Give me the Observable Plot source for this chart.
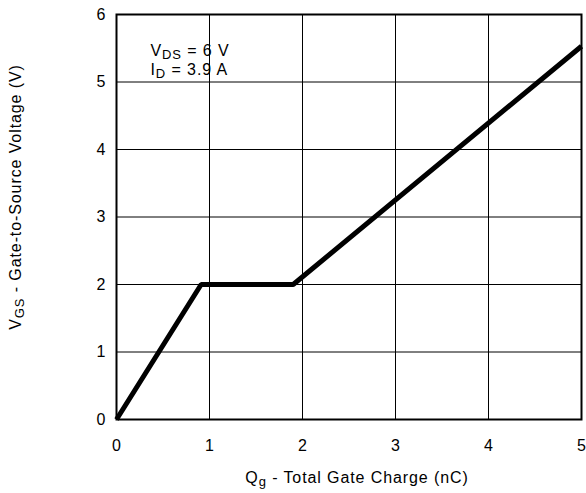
<!DOCTYPE html>
<html>
<head>
<meta charset="utf-8">
<script src="https://cdn.jsdelivr.net/npm/d3@7"></script>
<script src="https://cdn.jsdelivr.net/npm/@observablehq/plot@0.6"></script>
<style>
  html, body { margin: 0; padding: 0; background: #fff; }
  #chart svg { display: block; }
</style>
</head>
<body>
<div id="chart"></div>
<script>
// Data
const qg = [0, 0.91, 1.9, 5];          // Total gate charge (nC)
const vgs = [0, 2, 2, 5.53];           // Gate-to-source voltage (V)
const xTicks = [0, 1, 2, 3, 4, 5];
const yTicks = [0, 1, 2, 3, 4, 5, 6];
const xLabel = "Q_{g} - Total Gate Charge (nC)";
const yLabel = "V_{GS} - Gate-to-Source Voltage (V)";
const notes = ["V_{DS} = 6 V", "I_{D} = 3.9 A"];

const points = qg.map((q, i) => ({q, v: vgs[i]}));
const FONT = "'Liberation Sans', Arial, Helvetica, sans-serif";

const chart = Plot.plot({
  width: 586,
  height: 493,
  marginLeft: 116,
  marginRight: 5,
  marginTop: 14,
  marginBottom: 74,
  style: {fontFamily: FONT, fontSize: "16px", color: "#000", background: "#fff"},
  x: {domain: [0, 5], ticks: xTicks},
  y: {domain: [0, 6], ticks: yTicks},
  marks: [
    Plot.gridX(xTicks, {stroke: "#000", strokeOpacity: 1, strokeWidth: 1}),
    Plot.gridY(yTicks, {stroke: "#000", strokeOpacity: 1, strokeWidth: 1}),
    Plot.axisX(xTicks, {tickSize: 0, tickPadding: 20, label: null, fontSize: 16, tickFormat: d => String(d)}),
    Plot.axisY(yTicks, {tickSize: 0, tickPadding: 11, label: null, fontSize: 16, tickFormat: d => String(d)}),
    Plot.frame({stroke: "#000", strokeWidth: 2}),
    Plot.line(points, {x: "q", y: "v", stroke: "#000", strokeWidth: 5, strokeLinejoin: "miter", strokeLinecap: "butt"}),
    Plot.text([xLabel], {text: d => d, frameAnchor: "bottom", lineAnchor: "bottom", dy: 63, dx: 8, fontSize: 16, fill: "#000"}),
    Plot.text([yLabel], {text: d => d, frameAnchor: "left", textAnchor: "middle", lineAnchor: "bottom", rotate: -90, dx: -96, dy: -20, fontSize: 16, fill: "#000"}),
    Plot.text([notes[0]], {text: d => d, frameAnchor: "top-left", textAnchor: "start", lineAnchor: "bottom", dx: 34, dy: 41, fontSize: 16, fill: "#000"}),
    Plot.text([notes[1]], {text: d => d, frameAnchor: "top-left", textAnchor: "start", lineAnchor: "bottom", dx: 34, dy: 60, fontSize: 16, fill: "#000"})
  ]
});

document.getElementById("chart").appendChild(chart);

// Turn "_{...}" markup into subscript tspans
d3.select(chart).selectAll("text").each(function() {
  const el = this;
  const s = el.textContent;
  if (!s.includes("_{")) return;
  el.textContent = "";
  el.setAttribute("letter-spacing", "0.9");
  const parts = s.split(/(_\{[^}]*\})/).filter(p => p.length);
  let shifted = false;
  for (const p of parts) {
    const t = document.createElementNS("http://www.w3.org/2000/svg", "tspan");
    if (p.startsWith("_{")) {
      t.textContent = p.slice(2, -1);
      t.setAttribute("font-size", "13");
      t.setAttribute("dy", "3");
      shifted = true;
    } else {
      t.textContent = p;
      if (shifted) { t.setAttribute("dy", "-3"); shifted = false; }
    }
    el.appendChild(t);
  }
});
</script>
</body>
</html>
